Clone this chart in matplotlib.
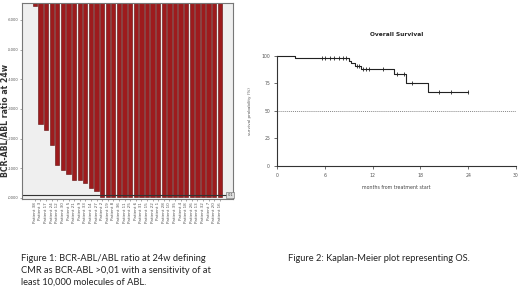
import matplotlib
matplotlib.use("Agg")
import matplotlib.pyplot as plt
import numpy as np

# ---------------- data: left bar chart ----------------
patients = ["Patient 38", "Patient 3", "Patient 17", "Patient 24", "Patient 12", "Patient 30",
            "Patient 5", "Patient 21", "Patient 9", "Patient 33", "Patient 14", "Patient 27",
            "Patient 2", "Patient 19", "Patient 8", "Patient 36", "Patient 11", "Patient 25",
            "Patient 6", "Patient 31", "Patient 15", "Patient 22", "Patient 1", "Patient 28",
            "Patient 10", "Patient 35", "Patient 4", "Patient 18", "Patient 26", "Patient 13",
            "Patient 32", "Patient 7", "Patient 20", "Patient 16"]
ratios = [0.648, 0.250, 0.230, 0.180, 0.110, 0.095, 0.080, 0.060, 0.060, 0.050, 0.035, 0.025,
          0.004, 0.004, 0.004, 0.004, 0.003, 0.003, 0.003, 0.003, 0.003, 0.003, 0.003, 0.003,
          0.003, 0.003, 0.003, 0.003, 0.003, 0.003, 0.003, 0.003, 0.003, 0.003]
ytick_vals = [0.0, 0.1, 0.2, 0.3, 0.4, 0.5, 0.6]
ytick_labels = [",0000", ",1000", ",2000", ",3000", ",4000", ",5000", ",6000"]
ref_level = 0.01

# ---------------- data: right Kaplan-Meier ----------------
step_times = [0, 2.2, 9.0, 9.3, 9.8, 10.5, 14.7, 16.2, 18.9]
step_surv = [100, 97.6, 95.4, 93.2, 90.9, 88.0, 83.1, 74.9, 66.7]
end_time = 24.0
censor_times = [5.6, 6.0, 6.6, 7.2, 7.8, 8.3, 8.7, 10.1, 10.3, 10.8, 11.2, 11.5, 13.3,
                15.0, 15.9, 16.9, 20.3, 21.8, 24.0]

W, H = 520, 291
fig = plt.figure(figsize=(W / 100, H / 100), dpi=100)
fig.patch.set_facecolor("white")

def box(l, t, r, b):
    return [l / W, 1 - b / H, (r - l) / W, (b - t) / H]

# ---------------- left chart ----------------
ax1 = fig.add_axes(box(22, 3, 233, 199))
ax1.set_facecolor("#efefef")
x = np.arange(len(ratios))
top = 0.657
ax1.bar(x, [1.0 - v for v in ratios], bottom=ratios, width=0.76,
        color="#9e1b1d", edgecolor="#5e0e0e", linewidth=0.4)
ax1.axhline(ref_level, color="#333333", linewidth=0.8)
ax1.set_xlim(-2.3, len(ratios) - 1 + 2.35)
ax1.set_ylim(-0.0035, top)
ax1.set_yticks(ytick_vals)
ax1.set_yticklabels(ytick_labels, fontsize=2.7, color="#555555")
ax1.set_xticks(x)
ax1.set_xticklabels(patients, rotation=90, fontsize=3.0, color="#555555", va="top")
ax1.tick_params(axis="both", length=1.5, width=0.4, color="#666666", pad=0.8)
for s in ax1.spines.values():
    s.set_color("#777777")
    s.set_linewidth(0.8)
ax1.set_ylabel("BCR-ABL/ABL ratio at 24w", fontsize=5.6, fontweight="bold",
               color="#333333", va="center", ha="center")
ax1.yaxis.set_label_coords(-0.08, 0.40)
ax1.text(1.0, ref_level, ",01", transform=ax1.get_yaxis_transform(), fontsize=2.5,
         ha="right", va="center", color="#333333",
         bbox=dict(boxstyle="square,pad=0.4", facecolor="#dddddd", edgecolor="#666666", linewidth=0.4),
         clip_on=False)

# ---------------- right chart ----------------
ax2 = fig.add_axes(box(277, 55.7, 516, 165.7))
ax2.set_xlim(0, 30)
ax2.set_ylim(0, 100)
xs = list(step_times) + [end_time]
ys = list(step_surv) + [step_surv[-1]]
ax2.step(xs, ys, where="post", color="#222222", linewidth=0.8, clip_on=False)
st = np.array(step_times)
cens_y = [step_surv[np.searchsorted(st, t, side="right") - 1] for t in censor_times]
ax2.plot(censor_times, cens_y, linestyle="none", marker="|", markersize=3,
         markeredgewidth=0.6, color="#222222", clip_on=False)
ax2.axhline(50, color="#888888", linewidth=0.7, linestyle=(0, (1, 1)))
ax2.spines["top"].set_visible(False)
ax2.spines["right"].set_visible(False)
for s in ("left", "bottom"):
    ax2.spines[s].set_color("#333333")
    ax2.spines[s].set_linewidth(0.8)
ax2.set_xticks([0, 6, 12, 18, 24, 30])
ax2.set_yticks([0, 25, 50, 75, 100])
ax2.tick_params(axis="both", labelsize=3.3, labelcolor="#555555", length=2, width=0.5,
                color="#333333", pad=3)
ax2.set_xlabel("months from treatment start", fontsize=3.4, color="#444444", labelpad=5)
ax2.set_ylabel("survival probability (%)", fontsize=3.0, color="#555555", labelpad=7)
ax2.set_title("Overall Survival", fontsize=4.2, fontweight="bold", color="#222222", pad=14)

# ---------------- captions ----------------
cap_font = ["Lato", "DejaVu Sans"]
fig.text(21 / W, 1 - 254 / H,
         "Figure 1: BCR-ABL/ABL ratio at 24w defining\nCMR as BCR-ABL >0,01 with a sensitivity of at\nleast 10,000 molecules of ABL.",
         fontsize=6.65, family=cap_font, color="#222222", va="top", ha="left", linespacing=1.42)
fig.text(288 / W, 1 - 254 / H, "Figure 2: Kaplan-Meier plot representing OS.",
         fontsize=6.65, family=cap_font, color="#222222", va="top", ha="left")

fig.savefig("out.png", dpi=100, facecolor="white")
